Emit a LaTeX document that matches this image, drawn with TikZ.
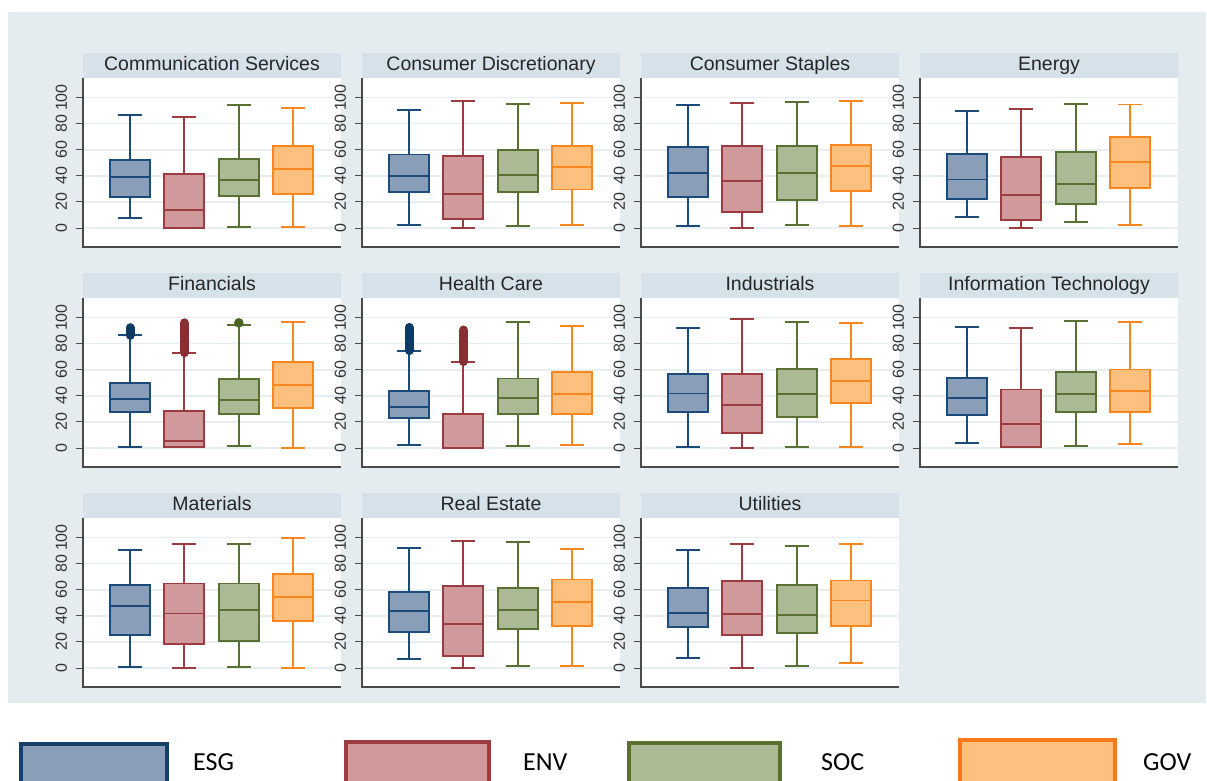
\documentclass[tikz,border=0pt]{standalone}
\usepackage{fontspec}
\setmainfont{Liberation Sans}
\newfontfamily\legfont{Carlito}
\definecolor{bgc}{HTML}{E4ECF0}
\definecolor{stripc}{HTML}{D5E2E9}
\definecolor{gridc}{HTML}{E6EEF2}
\definecolor{axc}{HTML}{4A4A4A}
\definecolor{c0line}{HTML}{1B4B7B}
\definecolor{c0fill}{HTML}{8B9EB7}
\definecolor{c0out}{HTML}{0F3A66}
\definecolor{c1line}{HTML}{9C3B40}
\definecolor{c1fill}{HTML}{D09A9C}
\definecolor{c1out}{HTML}{8A2E33}
\definecolor{c2line}{HTML}{587132}
\definecolor{c2fill}{HTML}{ABB995}
\definecolor{c2out}{HTML}{4A6424}
\definecolor{c3line}{HTML}{F7861E}
\definecolor{c3fill}{HTML}{FEC07F}
\definecolor{c3out}{HTML}{E07010}
\tikzset{
 ttl/.style={font=\fontsize{19.5}{22}\selectfont, text=black!85, inner sep=0pt, text height=14pt, text depth=4pt},
 ticklab/.style={font=\fontsize{16}{18}\selectfont, text=black!80, rotate=90, inner sep=0pt, text height=11.5pt, text depth=0pt},
 gridl/.style={draw=gridc, line width=1.6pt},
 axl/.style={draw=axc, line width=1.2pt},
 tickl/.style={draw=axc, line width=1pt},
 bxl/.style={line width=1.9pt},
 legbox/.style={line width=3.5pt, anchor=north west, minimum width=146pt, minimum height=50pt, inner sep=0pt},
 legtxt/.style={font=\legfont\fontsize{26}{30}\selectfont, anchor=west, inner sep=0pt, text=black},
}
\newcommand{\panel}[4]{%
 \pgfmathsetmacro\pL{83+279*#1}%
 \pgfmathsetmacro\pT{53+220*#2}%
 \fill[stripc] (\pL,\pT) rectangle ++(258,25);
 \node[ttl] (#3) at (\pL+129,\pT+12.5) {#4};
 \fill[white] (\pL,\pT+25) rectangle ++(258,169);
 \foreach \v in {0,20,...,100} {
   \draw[gridl] (\pL,\pT+175-1.304*\v) -- ++(258,0);
   \draw[tickl] (\pL-7,\pT+175-1.304*\v) -- ++(7,0);
   \node[ticklab] (#3-\v) at (\pL-22,\pT+175-1.304*\v) {\v};
 }
 \draw[axl] (\pL,\pT+25) -- (\pL,\pT+194) -- ++(258,0);
}
\newcommand{\bp}[8]{%
 \pgfmathsetmacro\cx{83+279*#1+47+54.4*#3}%
 \pgfmathsetmacro\yb{53+220*#2+175}%
 \draw[bxl, draw=c#3line] (\cx,\yb-1.304*#4) -- (\cx,\yb-1.304*#5)
   (\cx,\yb-1.304*#7) -- (\cx,\yb-1.304*#8)
   (\cx-12,\yb-1.304*#4) -- (\cx+12,\yb-1.304*#4)
   (\cx-12,\yb-1.304*#8) -- (\cx+12,\yb-1.304*#8);
 \filldraw[bxl, draw=c#3line, fill=c#3fill] (\cx-20,\yb-1.304*#5) rectangle (\cx+20,\yb-1.304*#7);
 \draw[bxl, draw=c#3line] (\cx-20,\yb-1.304*#6) -- (\cx+20,\yb-1.304*#6);
}
\newcommand{\outl}[5]{%
 \pgfmathsetmacro\cx{83+279*#1+47+54.4*#3}%
 \pgfmathsetmacro\yb{53+220*#2+175}%
 \draw[draw=c#3out, line width=9pt, line cap=round] (\cx,\yb-1.304*#4) -- (\cx,\yb-1.304*#5);
}
\newcommand{\onedot}[4]{%
 \pgfmathsetmacro\cx{83+279*#1+47+54.4*#3}%
 \pgfmathsetmacro\yb{53+220*#2+175}%
 \fill[c#3out] (\cx,\yb-1.304*#4) circle (4.8);
}
\begin{document}
\begin{tikzpicture}[x=1pt,y=-1pt]
\useasboundingbox (0,0) rectangle (1207,780);
\clip (0,0) rectangle (1207,780);
\fill[white] (0,0) rectangle (1207,780);
\fill[bgc] (8,12) rectangle (1206,703);
% Row 0
\panel{0}{0}{commserv}{Communication Services}
\bp{0}{0}{0}{7.9}{23.5}{38.9}{51.9}{86.4}
\bp{0}{0}{1}{0.3}{0.3}{14.1}{41.7}{84.9}
\bp{0}{0}{2}{0.8}{24.8}{36.8}{53.2}{94.1}
\bp{0}{0}{3}{1}{25.8}{45.5}{62.7}{91.8}
\panel{1}{0}{consdisc}{Consumer Discretionary}
\bp{1}{0}{0}{2.6}{27.4}{40}{56.4}{90.5}
\bp{1}{0}{1}{0}{6.7}{25.9}{55.1}{97.4}
\bp{1}{0}{2}{1.3}{27.9}{40.5}{60}{95.1}
\bp{1}{0}{3}{2}{29.5}{46.9}{62.8}{95.9}
\panel{2}{0}{consstap}{Consumer Staples}
\bp{2}{0}{0}{1.5}{24.1}{42.3}{62}{94.4}
\bp{2}{0}{1}{0}{12.3}{36.2}{62.6}{96.2}
\bp{2}{0}{2}{2}{21.3}{42.3}{62.6}{96.9}
\bp{2}{0}{3}{1.3}{28.5}{47.7}{63.8}{97.7}
\panel{3}{0}{energy}{Energy}
\bp{3}{0}{0}{8.4}{21.9}{37.2}{56.7}{89.6}
\bp{3}{0}{1}{0.3}{6.4}{25.2}{54.7}{91.3}
\bp{3}{0}{2}{4.6}{18.6}{33.8}{58}{95.2}
\bp{3}{0}{3}{2.5}{30.8}{50.9}{70}{94.7}
% Row 1
\panel{0}{1}{financials}{Financials}
\bp{0}{1}{0}{0.5}{27.4}{37.4}{50}{86.4}
\outl{0}{1}{0}{86.4}{92.3}
\bp{0}{1}{1}{0.5}{0.5}{5.1}{28.7}{73.1}
\outl{0}{1}{1}{73.1}{96}
\bp{0}{1}{2}{1.3}{26.4}{36.7}{52.6}{94.4}
\onedot{0}{1}{2}{96}
\bp{0}{1}{3}{0.3}{30.8}{48.5}{65.9}{96.9}
\panel{1}{1}{health}{Health Care}
\bp{1}{1}{0}{2.6}{23}{31.6}{43.4}{74.7}
\outl{1}{1}{0}{74.7}{92.5}
\bp{1}{1}{1}{0}{0}{0}{26.3}{66.3}
\outl{1}{1}{1}{66.3}{90.5}
\bp{1}{1}{2}{1.8}{26}{38.5}{53.3}{96.4}
\bp{1}{1}{3}{2.6}{26}{41.3}{58.4}{93.9}
\panel{2}{1}{industrials}{Industrials}
\bp{2}{1}{0}{0.5}{27.8}{41.8}{56.6}{91.8}
\bp{2}{1}{1}{0}{11.7}{33.2}{56.9}{98.7}
\bp{2}{1}{2}{0.5}{24}{41.3}{60.5}{96.4}
\bp{2}{1}{3}{1}{34.2}{51.5}{68.4}{96.2}
\panel{3}{1}{infotech}{Information Technology}
\bp{3}{1}{0}{3.6}{25.5}{38.3}{53.6}{92.9}
\bp{3}{1}{1}{0.5}{0.5}{18.4}{44.9}{92.3}
\bp{3}{1}{2}{1.3}{27.6}{41.3}{58.2}{97.4}
\bp{3}{1}{3}{3.1}{27.3}{43.9}{60.2}{96.4}
% Row 2
\panel{0}{2}{materials}{Materials}
\bp{0}{2}{0}{1}{25.5}{47.7}{63.5}{90.6}
\bp{0}{2}{1}{0}{18.1}{41.8}{64.8}{95.2}
\bp{0}{2}{2}{0.5}{20.9}{44.4}{64.8}{95.2}
\bp{0}{2}{3}{0.3}{36}{54.6}{72.4}{99.5}
\panel{1}{2}{realestate}{Real Estate}
\bp{1}{2}{0}{6.9}{27.8}{43.6}{58.2}{92.1}
\bp{1}{2}{1}{0}{9.4}{33.7}{62.8}{97.2}
\bp{1}{2}{2}{1.3}{29.8}{44.6}{61.5}{96.4}
\bp{1}{2}{3}{1.8}{32.1}{50.8}{67.9}{91.6}
\panel{2}{2}{utilities}{Utilities}
\bp{2}{2}{0}{7.4}{31.4}{42.3}{61.5}{90.8}
\bp{2}{2}{1}{0}{25}{41.6}{66.8}{95.4}
\bp{2}{2}{2}{1.8}{26.8}{40.8}{63.5}{93.4}
\bp{2}{2}{3}{4.1}{32.1}{51.8}{67.1}{95.4}
% Legend
\node[legbox, draw=c0line!85!black, fill=c0fill, minimum width=146pt] (kesg) at (19,742) {};
\node[legtxt] (tesg) at (193,762) {ESG};
\node[legbox, draw=c1line, fill=c1fill, minimum width=143pt] (kenv) at (344,740) {};
\node[legtxt] (tenv) at (523,762) {ENV};
\node[legbox, draw=c2line, fill=c2fill, minimum width=151pt] (ksoc) at (627,741) {};
\node[legtxt] (tsoc) at (821,762) {SOC};
\node[legbox, draw=c3line!90!red, fill=c3fill, minimum width=155pt] (kgov) at (958,738) {};
\node[legtxt] (tgov) at (1143,762) {GOV};
\end{tikzpicture}
\end{document}
